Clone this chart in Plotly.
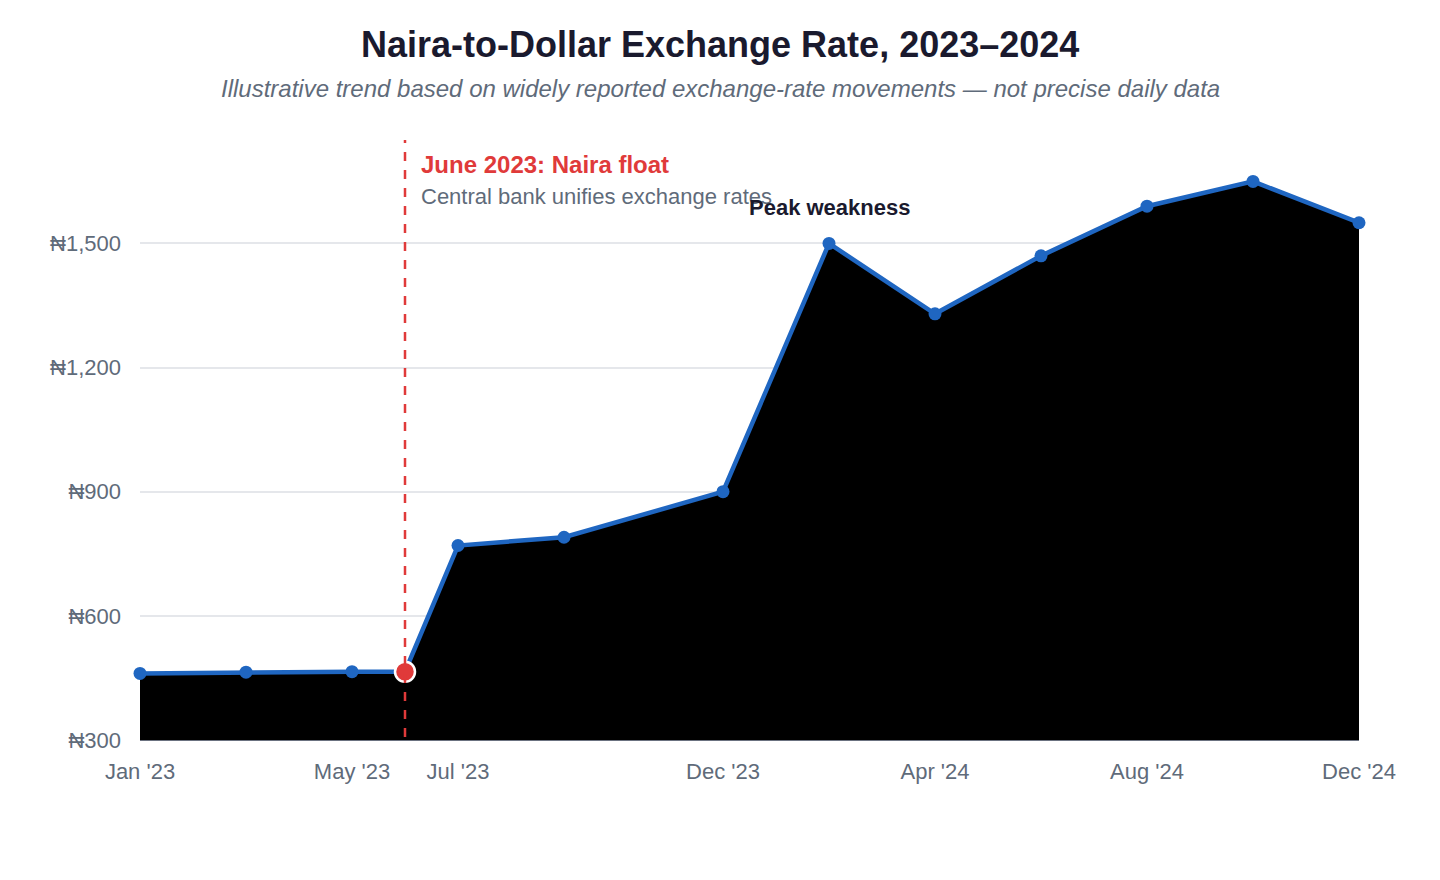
import plotly.graph_objects as go

months = ["2023-01", "2023-03", "2023-05", "2023-06", "2023-07",
          "2023-09", "2023-12", "2024-02", "2024-04", "2024-06",
          "2024-08", "2024-10", "2024-12"]
rates = [461, 464, 465, 465, 770, 790, 900, 1500, 1330, 1470, 1590, 1650, 1550]

tick_months = ["2023-01", "2023-05", "2023-07", "2023-12", "2024-04", "2024-08", "2024-12"]
tick_text = ["Jan '23", "May '23", "Jul '23", "Dec '23", "Apr '24", "Aug '24", "Dec '24"]
y_ticks = [300, 600, 900, 1200, 1500]

float_month = "2023-06"
float_rate = 465
peak_month = "2024-02"
peak_rate = 1500


def month_num(m):
    # months counted from Jan 2023, so every month gets the same width
    y, mo = m.split("-")
    return (int(y) - 2023) * 12 + int(mo) - 1


font = "Liberation Sans, Arial, sans-serif"
blue = "#1f66c1"
red = "#e03a3a"
gray = "#5f6b7a"
dark = "#1a1a2e"

x = [month_num(m) for m in months]

fig = go.Figure()
fig.add_trace(go.Scatter(
    x=x, y=rates, mode="lines+markers",
    fill="tozeroy", fillcolor="black",
    line=dict(color=blue, width=4.5),
    marker=dict(color=blue, size=13),
    cliponaxis=False, hoverinfo="skip", showlegend=False,
))
fig.add_trace(go.Scatter(
    x=[month_num(float_month)], y=[float_rate], mode="markers",
    marker=dict(color=red, size=20, line=dict(color="white", width=2.5)),
    cliponaxis=False, showlegend=False,
))

fig.add_shape(type="line", x0=month_num(float_month), x1=month_num(float_month), xref="x",
              y0=0.005, y1=1, yref="paper",
              line=dict(color=red, width=2.5, dash="dash"))

# title and subtitle, centred on the whole page
l, r = 132, 89
title_x = (720 - 8 - l) / (1440 - l - r)
fig.add_annotation(x=title_x, y=1, xref="paper", yref="paper", yanchor="middle",
                   yshift=96, showarrow=False,
                   text="<b>Naira-to-Dollar Exchange Rate, 2023–2024</b>",
                   font=dict(family=font, size=36, color=dark))
fig.add_annotation(x=title_x, y=1, xref="paper", yref="paper", yanchor="middle",
                   yshift=52, showarrow=False,
                   text="<i>Illustrative trend based on widely reported exchange-rate movements — not precise daily data</i>",
                   font=dict(family=font, size=24, color=gray))

fig.add_annotation(x=month_num(float_month), y=1, xref="x", yref="paper", yanchor="middle",
                   xanchor="left", xshift=14, yshift=-24, showarrow=False,
                   text="<b>June 2023: Naira float</b>",
                   font=dict(family=font, size=24, color=red))
fig.add_annotation(x=month_num(float_month), y=1, xref="x", yref="paper", yanchor="middle",
                   xanchor="left", xshift=14, yshift=-56, showarrow=False,
                   text="Central bank unifies exchange rates",
                   font=dict(family=font, size=22, color=gray))
fig.add_annotation(x=month_num(peak_month), y=peak_rate, showarrow=False, yshift=36,
                   text="<b>Peak weakness</b>",
                   font=dict(family=font, size=22, color=dark))

fig.update_layout(
    width=1440, height=880,
    paper_bgcolor="white", plot_bgcolor="white",
    margin=dict(l=l, r=r, t=132, b=148),
    font=dict(family=font, color=gray),
    xaxis=dict(
        tickvals=[month_num(m) for m in tick_months], ticktext=tick_text,
        range=[month_num(months[0]), month_num(months[-1])],
        showgrid=False, showline=True, linecolor="#6b7280", linewidth=1,
        zeroline=False, ticks="", tickfont=dict(size=22, color=gray),
        ticklabelstandoff=12,
    ),
    yaxis=dict(
        range=[300, 1750], tickvals=y_ticks,
        ticktext=[f"₦{v:,}" for v in y_ticks],
        showgrid=True, gridcolor="#e5e7eb", gridwidth=2,
        zeroline=False, showline=False, ticks="",
        tickfont=dict(size=22, color=gray), ticklabelstandoff=18,
    ),
)

fig.write_html("out.html")
